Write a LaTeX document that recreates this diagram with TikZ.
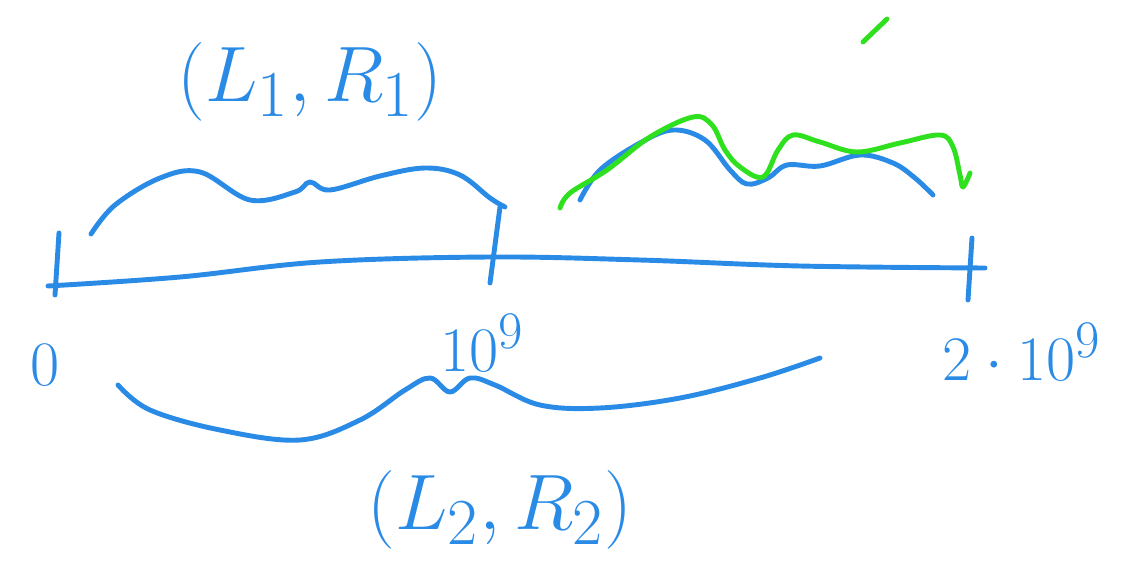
\documentclass[tikz,border=0pt]{standalone}
\usepackage{graphicx}
\definecolor{sketchBlue}{HTML}{2A8BE6}
\definecolor{sketchGreen}{HTML}{2EE01E}
\usepackage{tikz}
\usetikzlibrary{positioning}
\newcommand{\bigtext}[1]{\scalebox{1.8}{\Huge #1}}
\newcommand{\numtext}[1]{\scalebox{1.45}{\Huge #1}}
\tikzset{
    pen line/.style={draw=sketchBlue, line width=2.8pt, line cap=round, line join=round},
    green line/.style={draw=sketchGreen, line width=2.8pt, line cap=round, line join=round},
    big label/.style={text=sketchBlue, inner sep=0pt},
}
\begin{document}
\begin{tikzpicture}[x=0.02cm, y=-0.02cm]
    \useasboundingbox (0,0) rectangle (1123,568);
    % number line and ticks
    \draw[pen line] plot[smooth, tension=0.6] coordinates {(48,286) (180,277) (320,262) (490,257) (640,260) (800,266) (985,268)};
    \draw[pen line] (59,233) -- (55,295);
    \draw[pen line] (500,207) -- (490,283);
    \draw[pen line] (968,300) -- (972,238);
    \node[big label] (zero) at (45,365) {\numtext{$0$}};
    \node[big label] (mid) at (482,343) {\numtext{$10^9$}};
    \node[big label] (end) at (1022,352) {\numtext{$2\cdot10^9$}};
    % upper brace
    \draw[pen line] plot[smooth, tension=0.6] coordinates {(91,234) (115,205) (160,178) (200,172) (250,200) (295,192) (310,182) (330,190) (380,176) (425,168) (460,175) (490,198) (505,207)};
    \node[big label] (upper) at (310,82) {\bigtext{$(L_1,R_1)$}};
    % lower brace
    \draw[pen line] plot[smooth, tension=0.6] coordinates {(118,385) (150,410) (220,430) (300,440) (360,420) (405,390) (430,378) (450,392) (470,378) (495,385) (540,405) (600,408) (680,398) (760,378) (820,358)};
    \node[big label] (lower) at (500,510) {\bigtext{$(L_2,R_2)$}};
    % right intervals
    \draw[pen line] plot[smooth, tension=0.6] coordinates {(580,200) (600,170) (640,143) (673,130) (705,140) (730,170) (747,184) (768,178) (787,165) (820,166) (860,155) (893,163) (915,178) (933,195)};
    \draw[green line] plot[smooth, tension=0.6] coordinates {(560,208) (570,193) (607,170) (650,137) (693,117) (712,125) (725,150) (740,167) (763,177) (778,150) (793,135) (820,142) (857,152) (900,143) (940,135) (953,147) (960,175) (963,187) (970,173)};
    \draw[green line] (863,42) -- (887,19);
\end{tikzpicture}
\end{document}
